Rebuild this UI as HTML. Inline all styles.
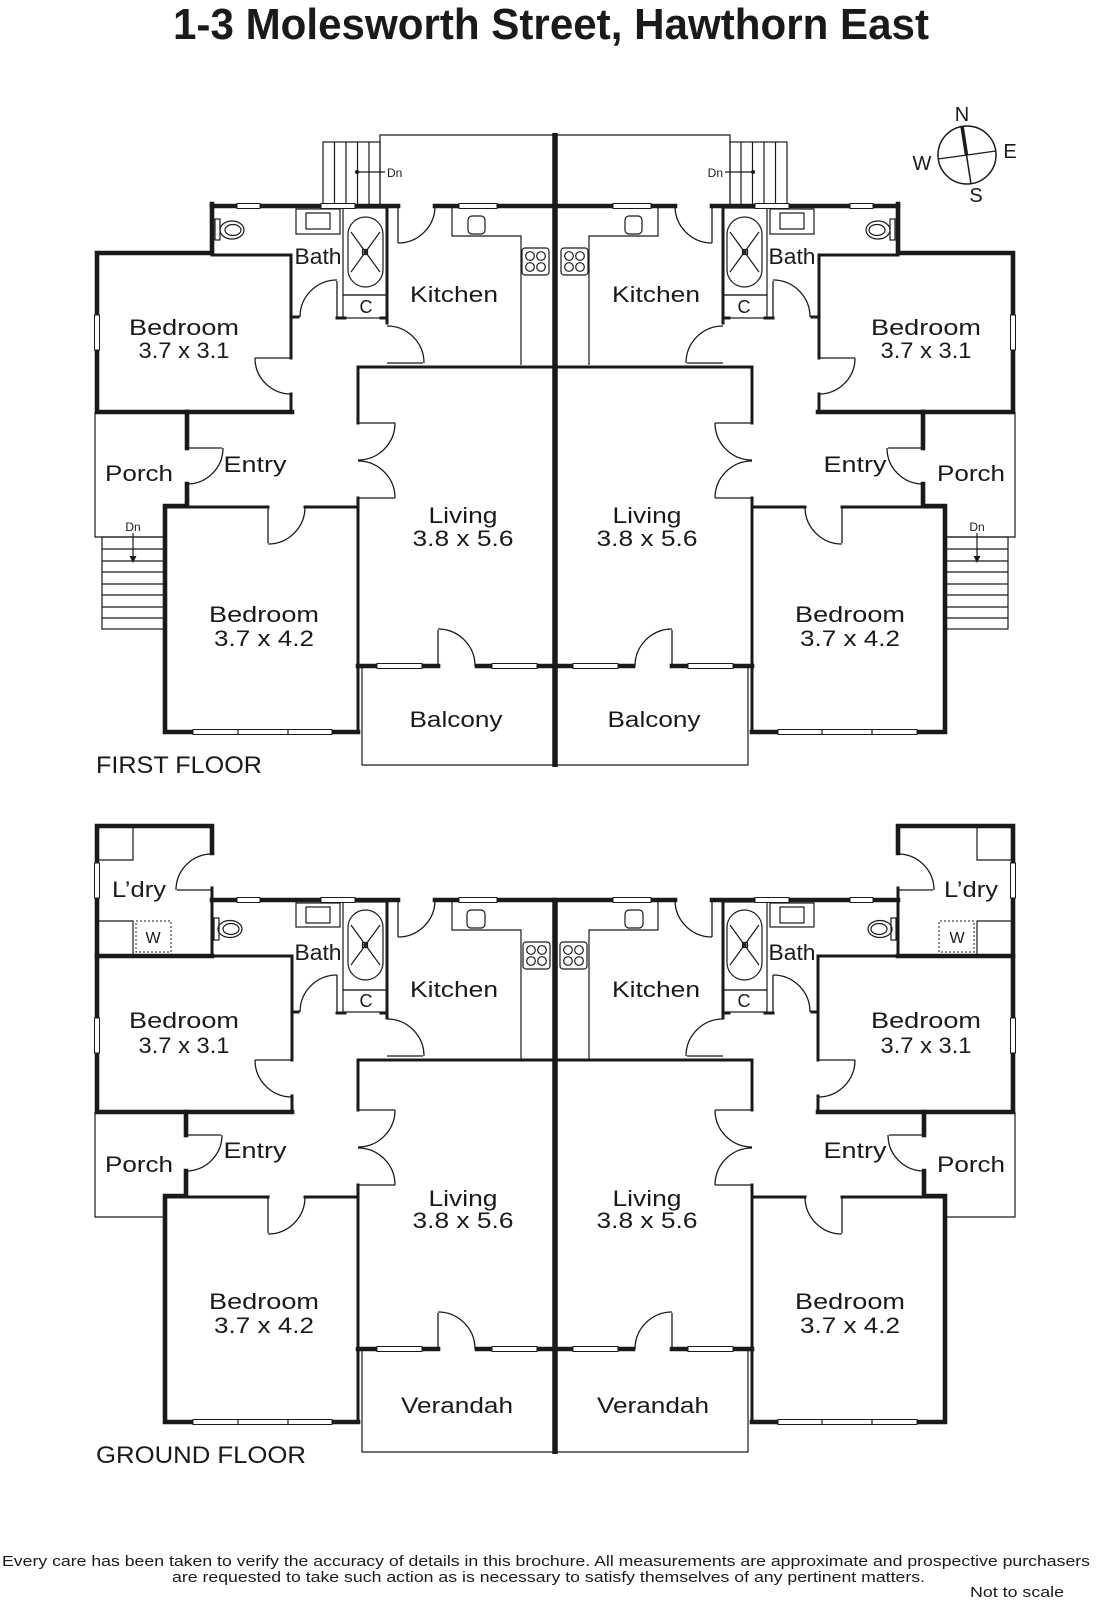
<!DOCTYPE html>
<html><head><meta charset="utf-8">
<style>
html,body{margin:0;padding:0;background:#fff;}
svg{display:block;}
.T{stroke:#1a1a1a;stroke-width:4.6;fill:none;stroke-linecap:square;stroke-linejoin:miter}
.M{stroke:#1a1a1a;stroke-width:3;fill:none;stroke-linecap:square}
.L{stroke:#1a1a1a;stroke-width:1.2;fill:none}
.D{stroke:#1a1a1a;stroke-width:1.3;fill:none}
.win{fill:#fff;stroke:#1a1a1a;stroke-width:1}
.wl{stroke:#888;stroke-width:0.8;fill:none}
.lb{font-family:"Liberation Sans",sans-serif;font-size:22px;fill:#1a1a1a}
.sm{font-family:"Liberation Sans",sans-serif;fill:#1a1a1a}
</style></head>
<body>
<svg width="1097" height="1600" viewBox="0 0 1097 1600" xmlns="http://www.w3.org/2000/svg">
<defs>
<g id="ffL">
  <!-- deck & top stairs -->
  <path class="L" d="M380,206V135H555"/>
  <rect class="L" x="323" y="142" width="57" height="64"/>
  <path class="L" d="M334.5,142V206M346,142V206M357.5,142V206M369,142V206"/>
  <path class="L" d="M357,172H385"/><circle cx="357" cy="172" r="2" fill="#1a1a1a"/>
  <!-- top wall -->
  <path class="T" d="M212,206H398M435,206H555"/>
  <!-- bedroom 1 -->
  <path class="T" d="M212,204V253H97V412H292"/>
  <path class="M" stroke-width="2.5" d="M212,255H291"/>
  <path class="M" d="M291,255V358M291,394V412"/>
  <path class="D" d="M255,358H291"/>
  <path class="D" d="M255,358A36,36 0 0 0 291,394"/>
  <!-- bath door -->
  <path class="M" d="M291,317H298"/>
  <path class="D" d="M337,317V281"/>
  <path class="D" d="M337,280A37,37 0 0 0 300,317"/>
  <path class="M" d="M337,318H345M381,318H387"/>
  <!-- tub & C -->
  <rect class="L" x="343" y="208" width="44" height="87"/>
  <rect class="L" x="343" y="295" width="44" height="23"/>
  <rect class="L" x="348" y="217" width="35" height="70" rx="17.5" ry="17.5"/>
  <path class="L" d="M351,232L380,272M380,232L351,272"/>
  <rect class="L" x="362.5" y="249.5" width="5" height="5" fill="#fff"/>
  <path class="L" d="M365,249.5V254.5M362.5,252H367.5"/>
  <!-- toilet & vanity -->
  <rect class="L" x="215" y="219" width="5" height="21"/>
  <ellipse class="L" cx="232" cy="230" rx="12" ry="9"/>
  <ellipse class="L" cx="233" cy="230" rx="8" ry="5.5"/>
  <rect class="L" x="296" y="209" width="44" height="25"/>
  <rect class="L" x="306" y="213" width="24" height="16"/>
  <path class="M" stroke-width="3.5" d="M387,206V323"/>
  <!-- kitchen doors -->
  <path class="D" d="M387,363H423"/>
  <path class="D" d="M387,326A37,37 0 0 1 424,363"/>
  <path class="D" d="M398,206V243"/>
  <path class="D" d="M398,243A37,37 0 0 0 435,206"/>
  <path class="L" d="M452,206V236H521V365"/>
  <rect class="L" x="468" y="216" width="17" height="18" rx="4"/>
  <rect class="L" x="522" y="248" width="27" height="27" rx="3"/>
  <circle class="L" cx="530" cy="256" r="4.3"/><circle class="L" cx="541" cy="256" r="4.3"/>
  <circle class="L" cx="530" cy="267" r="4.3"/><circle class="L" cx="541" cy="267" r="4.3"/>
  <!-- living -->
  <path class="M" stroke-width="3.5" d="M358,367H555"/>
  <path class="M" stroke-width="3.5" d="M358,367V423M358,498V732"/>
  <path class="D" d="M358,423H395M358,498H395"/>
  <path class="D" d="M395,423A37,37 0 0 1 358,460"/>
  <path class="D" d="M395,498A37,37 0 0 0 358,461"/>
  <!-- porch -->
  <path class="L" d="M95,412V537H165"/>
  <path class="T" d="M187,412V448"/>
  <path class="D" d="M187,448H222"/>
  <path class="D" d="M223,448A36,36 0 0 1 187,484"/>
  <path class="T" d="M187,484V506H165V732H358"/>
  <!-- bedroom 2 top -->
  <path class="M" stroke-width="2.5" d="M165,507H268M305,507H358"/>
  <path class="D" d="M268,507V543"/>
  <path class="D" d="M268,544A37,37 0 0 0 305,507"/>
  <!-- side stairs -->
  <rect class="L" x="102" y="537" width="63" height="92"/>
  <path class="L" d="M102,549H165M102,561H165M102,572H165M102,584H165M102,595H165M102,607H165M102,618H165"/>
  <path class="L" d="M133,533V557"/>
  <polygon points="129.5,556 136.5,556 133,563" fill="#1a1a1a"/>
  <!-- living bottom -->
  <path class="T" stroke-width="4" d="M358,666H377M422,666H438M477,666H492M537,666H555"/>
  <path class="D" d="M438,666V630"/>
  <path class="D" d="M438,629A37,37 0 0 1 475,666"/>
  <path class="L" d="M362,666V765H555"/>
  <!-- windows -->
  <rect class="win" x="237" y="203.5" width="23" height="5"/>
  <rect class="win" x="321" y="203.5" width="34" height="5"/>
  <rect class="win" x="459" y="203.5" width="38" height="5"/>
  <rect class="win" x="94.5" y="315" width="5" height="35"/>
  <rect class="win" x="193" y="729.5" width="139" height="5"/>
  <path class="L" d="M238,729.5V734.5M288,729.5V734.5"/>
  <rect class="win" x="377" y="663.5" width="45" height="5"/>
  <rect class="win" x="492" y="663.5" width="45" height="5"/>
</g>

<g id="gfL">
  <path class="T" d="M212,853V826H97V1112H292"/>
  <path class="D" d="M177,890H212"/>
  <path class="D" d="M176,890A36,36 0 0 1 212,854"/>
  <path class="M" stroke-width="3.5" d="M212,888V956"/>
  <path class="T" d="M212,900H398M435,900H555"/>
  <path class="L" d="M98,860H133V828"/>
  <path class="L" d="M98,921H133V954"/>
  <rect x="136" y="921" width="35" height="31" fill="none" stroke="#1a1a1a" stroke-width="1" stroke-dasharray="2,2"/>
  <path class="T" stroke-width="4" d="M97,956H212"/>
  <path class="M" stroke-width="2.5" d="M212,956H292"/>
  <path class="M" d="M292,956V1060M292,1096V1112"/>
  <path class="D" d="M255,1060H292"/>
  <path class="D" d="M255,1060A37,37 0 0 0 292,1097"/>
  <path class="M" d="M292,1012H298"/>
  <path class="D" d="M337,1012V975"/>
  <path class="D" d="M337,975A37,37 0 0 0 300,1012"/>
  <path class="M" d="M337,1013H345M381,1013H387"/>
  <rect class="L" x="343" y="902" width="44" height="88"/>
  <rect class="L" x="343" y="990" width="44" height="22"/>
  <rect class="L" x="348" y="910" width="35" height="70" rx="17.5" ry="17.5"/>
  <path class="L" d="M351,925L380,965M380,925L351,965"/>
  <rect class="L" x="362.5" y="942.5" width="5" height="5" fill="#fff"/>
  <path class="L" d="M365,942.5V947.5M362.5,945H367.5"/>
  <rect class="L" x="214" y="918" width="5" height="22"/>
  <ellipse class="L" cx="230" cy="929" rx="12" ry="8.5"/>
  <ellipse class="L" cx="231" cy="929" rx="8" ry="5.5"/>
  <rect class="L" x="296" y="903" width="44" height="24"/>
  <rect class="L" x="306" y="907" width="24" height="16"/>
  <path class="M" stroke-width="3.5" d="M387,900V1018"/>
  <path class="D" d="M387,1056H423"/>
  <path class="D" d="M387,1019A37,37 0 0 1 424,1056"/>
  <path class="D" d="M398,900V937"/>
  <path class="D" d="M398,937A37,37 0 0 0 435,900"/>
  <path class="L" d="M452,900V930H521V1060"/>
  <rect class="L" x="467" y="910" width="18" height="18" rx="4"/>
  <rect class="L" x="523" y="942" width="27" height="27" rx="3"/>
  <circle class="L" cx="531" cy="950" r="4.3"/><circle class="L" cx="542" cy="950" r="4.3"/>
  <circle class="L" cx="531" cy="961" r="4.3"/><circle class="L" cx="542" cy="961" r="4.3"/>
  <path class="M" stroke-width="3.5" d="M358,1060H555"/>
  <path class="M" stroke-width="3.5" d="M358,1060V1110M358,1185V1422"/>
  <path class="D" d="M358,1110H395M358,1185H395"/>
  <path class="D" d="M395,1110A37,37 0 0 1 358,1147"/>
  <path class="D" d="M395,1185A37,37 0 0 0 358,1148"/>
  <path class="L" d="M95,1112V1217H165"/>
  <path class="T" d="M186,1112V1135"/>
  <path class="D" d="M186,1135H221"/>
  <path class="D" d="M222,1135A36,36 0 0 1 186,1171"/>
  <path class="T" d="M186,1171V1196H165V1422H358"/>
  <path class="M" stroke-width="2.5" d="M165,1197H268M305,1197H358"/>
  <path class="D" d="M268,1197V1233"/>
  <path class="D" d="M268,1234A37,37 0 0 0 305,1197"/>
  <path class="T" stroke-width="4" d="M358,1349H377M422,1349H438M477,1349H492M537,1349H555"/>
  <path class="D" d="M438,1349V1313"/>
  <path class="D" d="M438,1312A37,37 0 0 1 475,1349"/>
  <path class="L" d="M362,1349V1452H555"/>
  <rect class="win" x="237" y="897.5" width="23" height="5"/>
  <rect class="win" x="321" y="897.5" width="34" height="5"/>
  <rect class="win" x="459" y="897.5" width="38" height="5"/>
  <rect class="win" x="94.5" y="863" width="5" height="35"/>
  <rect class="win" x="94.5" y="1018" width="5" height="35"/>
  <rect class="win" x="193" y="1419.5" width="139" height="5"/>
  <path class="L" d="M238,1419.5V1424.5M288,1419.5V1424.5"/>
  <rect class="win" x="377" y="1346.5" width="45" height="5"/>
  <rect class="win" x="492" y="1346.5" width="45" height="5"/>
</g>
</defs>

<!-- Title -->
<text x="173" y="39" font-family="Liberation Sans, sans-serif" font-weight="bold" font-size="44" fill="#1a1a1a" textLength="756" lengthAdjust="spacingAndGlyphs">1-3 Molesworth Street, Hawthorn East</text>

<!-- Compass -->
<circle cx="967" cy="155" r="29" fill="none" stroke="#1a1a1a" stroke-width="1.5"/>
<path d="M962,126L966.5,155" stroke="#1a1a1a" stroke-width="3.5" fill="none"/>
<path d="M966.5,155L971,184" stroke="#1a1a1a" stroke-width="1.5" fill="none"/>
<path d="M938,159L996,151" stroke="#1a1a1a" stroke-width="1.3" fill="none"/>
<text class="sm" font-size="20" x="962" y="121" text-anchor="middle">N</text>
<text class="sm" font-size="20" x="1010" y="158" text-anchor="middle">E</text>
<text class="sm" font-size="20" x="976" y="202" text-anchor="middle">S</text>
<text class="sm" font-size="20" x="922" y="170" text-anchor="middle">W</text>

<!-- First floor -->
<use href="#ffL"/>
<use href="#ffL" transform="translate(1110,0) scale(-1,1)"/>
<path d="M555,133V767" stroke="#1a1a1a" stroke-width="5.5" fill="none"/>

<!-- Ground floor -->
<use href="#gfL"/>
<use href="#gfL" transform="translate(1110,0) scale(-1,1)"/>
<path d="M555,898V1454" stroke="#1a1a1a" stroke-width="5.5" fill="none"/>

<!-- Dn labels -->
<text class="sm" font-size="12" x="387" y="177">Dn</text>
<text class="sm" font-size="12" x="723" y="177" text-anchor="end">Dn</text>
<text class="sm" font-size="12" x="133" y="531" text-anchor="middle">Dn</text>
<text class="sm" font-size="12" x="977" y="531" text-anchor="middle">Dn</text>

<!-- First floor labels -->
<text class="lb" x="294.5" y="264" textLength="47" lengthAdjust="spacingAndGlyphs">Bath</text>
<text class="lb" x="768.5" y="264" textLength="47" lengthAdjust="spacingAndGlyphs">Bath</text>
<text class="lb" x="410" y="302" textLength="88" lengthAdjust="spacingAndGlyphs">Kitchen</text>
<text class="lb" x="612" y="302" textLength="88" lengthAdjust="spacingAndGlyphs">Kitchen</text>
<text class="sm" font-size="18" x="366" y="313" text-anchor="middle">C</text>
<text class="sm" font-size="18" x="744" y="313" text-anchor="middle">C</text>
<text class="lb" x="129" y="335" textLength="110" lengthAdjust="spacingAndGlyphs">Bedroom</text>
<text class="lb" x="138.5" y="358" textLength="91" lengthAdjust="spacingAndGlyphs">3.7 x 3.1</text>
<text class="lb" x="871" y="335" textLength="110" lengthAdjust="spacingAndGlyphs">Bedroom</text>
<text class="lb" x="880.5" y="358" textLength="91" lengthAdjust="spacingAndGlyphs">3.7 x 3.1</text>
<text class="lb" x="105" y="481" textLength="68" lengthAdjust="spacingAndGlyphs">Porch</text>
<text class="lb" x="937" y="481" textLength="68" lengthAdjust="spacingAndGlyphs">Porch</text>
<text class="lb" x="223.5" y="472" textLength="63" lengthAdjust="spacingAndGlyphs">Entry</text>
<text class="lb" x="823.5" y="472" textLength="63" lengthAdjust="spacingAndGlyphs">Entry</text>
<text class="lb" x="428.5" y="523" textLength="69" lengthAdjust="spacingAndGlyphs">Living</text>
<text class="lb" x="412.5" y="546" textLength="101" lengthAdjust="spacingAndGlyphs">3.8 x 5.6</text>
<text class="lb" x="612.5" y="523" textLength="69" lengthAdjust="spacingAndGlyphs">Living</text>
<text class="lb" x="596.5" y="546" textLength="101" lengthAdjust="spacingAndGlyphs">3.8 x 5.6</text>
<text class="lb" x="209" y="622" textLength="110" lengthAdjust="spacingAndGlyphs">Bedroom</text>
<text class="lb" x="214" y="646" textLength="100" lengthAdjust="spacingAndGlyphs">3.7 x 4.2</text>
<text class="lb" x="795" y="622" textLength="110" lengthAdjust="spacingAndGlyphs">Bedroom</text>
<text class="lb" x="800" y="646" textLength="100" lengthAdjust="spacingAndGlyphs">3.7 x 4.2</text>
<text class="lb" x="409.5" y="727" textLength="93" lengthAdjust="spacingAndGlyphs">Balcony</text>
<text class="lb" x="607.5" y="727" textLength="93" lengthAdjust="spacingAndGlyphs">Balcony</text>
<text class="sm" font-size="24" x="96" y="773" textLength="166" lengthAdjust="spacingAndGlyphs">FIRST FLOOR</text>

<!-- Ground floor labels -->
<text class="lb" x="112" y="897" textLength="54" lengthAdjust="spacingAndGlyphs">L’dry</text>
<text class="lb" x="944" y="897" textLength="54" lengthAdjust="spacingAndGlyphs">L’dry</text>
<text class="sm" font-size="16" x="153" y="943" text-anchor="middle">W</text>
<text class="sm" font-size="16" x="957" y="943" text-anchor="middle">W</text>
<text class="lb" x="294.5" y="960" textLength="47" lengthAdjust="spacingAndGlyphs">Bath</text>
<text class="lb" x="768.5" y="960" textLength="47" lengthAdjust="spacingAndGlyphs">Bath</text>
<text class="sm" font-size="18" x="366" y="1007" text-anchor="middle">C</text>
<text class="sm" font-size="18" x="744" y="1007" text-anchor="middle">C</text>
<text class="lb" x="410" y="997" textLength="88" lengthAdjust="spacingAndGlyphs">Kitchen</text>
<text class="lb" x="612" y="997" textLength="88" lengthAdjust="spacingAndGlyphs">Kitchen</text>
<text class="lb" x="129" y="1028" textLength="110" lengthAdjust="spacingAndGlyphs">Bedroom</text>
<text class="lb" x="138.5" y="1053" textLength="91" lengthAdjust="spacingAndGlyphs">3.7 x 3.1</text>
<text class="lb" x="871" y="1028" textLength="110" lengthAdjust="spacingAndGlyphs">Bedroom</text>
<text class="lb" x="880.5" y="1053" textLength="91" lengthAdjust="spacingAndGlyphs">3.7 x 3.1</text>
<text class="lb" x="105" y="1172" textLength="68" lengthAdjust="spacingAndGlyphs">Porch</text>
<text class="lb" x="937" y="1172" textLength="68" lengthAdjust="spacingAndGlyphs">Porch</text>
<text class="lb" x="223.5" y="1158" textLength="63" lengthAdjust="spacingAndGlyphs">Entry</text>
<text class="lb" x="823.5" y="1158" textLength="63" lengthAdjust="spacingAndGlyphs">Entry</text>
<text class="lb" x="428.5" y="1206" textLength="69" lengthAdjust="spacingAndGlyphs">Living</text>
<text class="lb" x="412.5" y="1228" textLength="101" lengthAdjust="spacingAndGlyphs">3.8 x 5.6</text>
<text class="lb" x="612.5" y="1206" textLength="69" lengthAdjust="spacingAndGlyphs">Living</text>
<text class="lb" x="596.5" y="1228" textLength="101" lengthAdjust="spacingAndGlyphs">3.8 x 5.6</text>
<text class="lb" x="209" y="1309" textLength="110" lengthAdjust="spacingAndGlyphs">Bedroom</text>
<text class="lb" x="214" y="1333" textLength="100" lengthAdjust="spacingAndGlyphs">3.7 x 4.2</text>
<text class="lb" x="795" y="1309" textLength="110" lengthAdjust="spacingAndGlyphs">Bedroom</text>
<text class="lb" x="800" y="1333" textLength="100" lengthAdjust="spacingAndGlyphs">3.7 x 4.2</text>
<text class="lb" x="401" y="1413" textLength="112" lengthAdjust="spacingAndGlyphs">Verandah</text>
<text class="lb" x="597" y="1413" textLength="112" lengthAdjust="spacingAndGlyphs">Verandah</text>
<text class="sm" font-size="24" x="96" y="1463" textLength="210" lengthAdjust="spacingAndGlyphs">GROUND FLOOR</text>

<!-- Footer -->
<text class="sm" font-size="15" x="2" y="1566" textLength="1088" lengthAdjust="spacingAndGlyphs">Every care has been taken to verify the accuracy of details in this brochure.  All measurements are approximate and prospective purchasers</text>
<text class="sm" font-size="15" x="172" y="1582" textLength="753" lengthAdjust="spacingAndGlyphs">are requested to take such action as is necessary to satisfy themselves of any pertinent matters.</text>
<text class="sm" font-size="15" x="970" y="1597" textLength="94" lengthAdjust="spacingAndGlyphs">Not to scale</text>
</svg>
</body></html>
